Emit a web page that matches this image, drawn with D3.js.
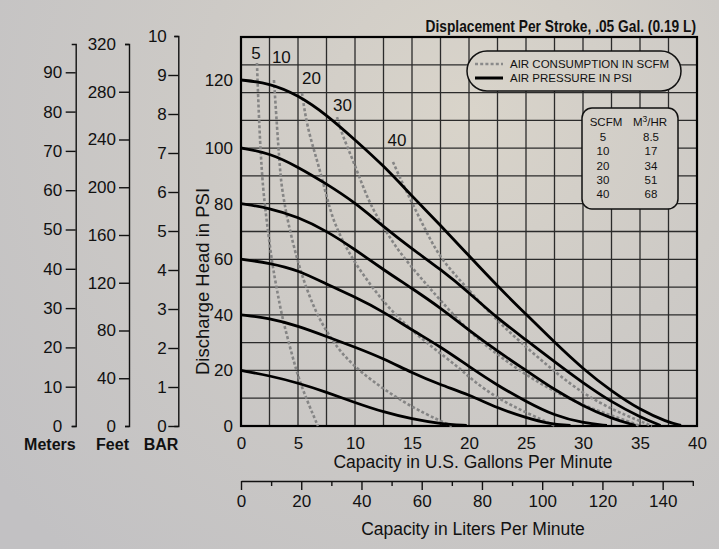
<!DOCTYPE html>
<html><head><meta charset="utf-8">
<script src="https://cdn.jsdelivr.net/npm/d3@7"></script>
<style>
body{margin:0;background:#cbc8c4}
svg{display:block;font-family:"Liberation Sans",Arial,Helvetica,sans-serif}
</style>
</head><body>
<svg id="c" width="719" height="549"></svg>
<script>
// ---------- data ----------
const gpmTicks = [0,5,10,15,20,25,30,35,40];
const literTicks = [0,10,20,30,40,50,60,70,80,90,100,110,120,130,140,150];
const psiTicks = [0,20,40,60,80,100,120];
const meterTicks = [0,10,20,30,40,50,60,70,80,90];
const feetTicks = [0,40,80,120,160,200,240,280,320];
const barTicks = [0,1,2,3,4,5,6,7,8,9,10];

const psiLevels = [120,100,80,60,40,20];
const p120 = [[0,120],[2.5,119.1],[5,115.6],[7.5,109.8],[10,102.4],[12.5,93.7],[15,82.7],[17.5,72.2],[20,61.2],[22.5,50.3],[25,40.2],[27.5,30.1],[30,20.5],[32.5,12.5],[35,5.8],[37.4,1.4],[38.6,0.2]];
const p100 = [[0,100],[2.5,98.2],[5,93.2],[7.5,87.1],[10,80.4],[12.5,71.7],[15,63.7],[17.5,56.4],[20,48],[22.5,38.7],[25,31],[27.5,23.1],[30,15.5],[32.5,8.6],[35,3.2],[36.8,0.2]];
const p80  = [[0,80],[2.5,78.4],[5,75.2],[7.5,70.2],[10,63.5],[12.5,56.2],[15,49.5],[17.5,42.5],[20,34.4],[22.5,26.9],[25,20],[27.5,13],[30,7.2],[32.5,2.7],[34.6,0.2]];
const p60  = [[0,60],[2.5,58.6],[5,56.1],[7.5,51],[10,46.4],[12.5,41.1],[15,34.5],[17.5,28.5],[20,21.4],[22.5,14.6],[25,8.8],[27.5,3.7],[30,1.1],[32.1,0.2]];
const p40  = [[0,40],[2.5,38.8],[5,36],[7.5,32.2],[10,28.4],[12.5,24.3],[15,19.1],[17.5,14.8],[20,11.3],[22.5,6.4],[25,3],[27,0.8],[28.9,0.2]];
const p20  = [[0,20],[2.5,18.1],[5,15.5],[7.5,12.2],[10,8.4],[12.5,5],[15,2.5],[17.5,0.8],[19.8,0.2]];

const scfmLevels = [5,10,20,30,40];
const m3hr = ["8.5","17","34","51","68"];
const a5  = [[1.4,125],[1.49,116.2],[1.67,101.5],[1.93,84.9],[2.28,73],[2.72,58.6],[3.16,48.9],[3.6,39.2],[4.3,28.4],[5,17.6],[5.88,8.3],[6.75,0]];
const a10 = [[2.89,120],[3.16,106.2],[3.42,92.1],[3.6,84.9],[4.12,73],[5,58.6],[5.79,48.9],[6.75,39.2],[7.98,30.9],[9.12,24.8],[10.61,19.1],[12.63,12.9],[15,6.8],[17.28,2.2],[18.5,0]];
const a20 = [[5.35,116.2],[5.79,106.2],[6.67,95.7],[7.37,84.9],[7.98,75.2],[8.86,66.9],[10,58.6],[11.49,50],[12.89,42.8],[14.65,35.6],[16.75,28.4],[19,21.4],[20.5,15.8],[22.5,10],[25,4.8],[27.6,0]];
const a30 = [[8.42,109.1],[8.95,103.2],[9.82,95.7],[10.7,86],[11.58,77.7],[12.81,69.4],[13.95,62.2],[15.7,53.6],[17.46,45.3],[20.09,33.5],[22.46,25.8],[24.9,18.6],[27.5,12.3],[30.2,7.2],[32.1,4.3],[33.9,1.8],[35,0]];
const a40 = [[13.33,95],[13.95,89.2],[15.09,79.5],[16.32,69.4],[17.46,60.4],[19.82,49.6],[22.46,37.8],[25.09,28.1],[27.63,19.1],[30.18,11.2],[32.63,5.8],[34.74,2.2],[36.05,0]];
// label anchors (gpm, psi) for the SCFM numbers
const scfmLabelAt = [[1.32,126.1],[3.54,124.9],[6.18,118.7],[8.9,111],[13.68,100.7]];

const pressureSeries = [p120,p100,p80,p60,p40,p20];
const airSeries = [a5,a10,a20,a30,a40];

// ---------- drawing ----------
const svg = d3.select('#c');
const defs = svg.append('defs');
const grad = defs.append('radialGradient').attr('id','bg')
  .attr('gradientUnits','userSpaceOnUse').attr('cx',470).attr('cy',110).attr('r',600);
grad.append('stop').attr('offset',0).attr('stop-color','#d9d4ca');
grad.append('stop').attr('offset',0.45).attr('stop-color','#cdcac6');
grad.append('stop').attr('offset',1).attr('stop-color','#c2c1c3');
svg.append('rect').attr('width',719).attr('height',549).attr('fill','url(#bg)');

const x = d3.scaleLinear().domain([0,40]).range([241,697]);
const y = d3.scaleLinear().domain([0,100,120]).range([426,148,80]);
const rows = d3.scaleLinear().domain([0,14]).range([426,37]);
const xL = d3.scaleLinear().domain([0,150]).range([x(0), x(150/3.785)]);
const yM = d3.scaleLinear().domain([0,97.2]).range([426,44]);
const yF = d3.scaleLinear().domain([0,320]).range([426,44]);
const yB = d3.scaleLinear().domain([0,10]).range([426,36]);

// grid
const grid = svg.append('g').attr('stroke','#2b2b2b').attr('stroke-width',1.3);
grid.selectAll('line.v').data(d3.range(0,40.01,2.5)).join('line')
  .attr('x1',d=>x(d)).attr('x2',d=>x(d)).attr('y1',rows(0)).attr('y2',rows(14));
grid.selectAll('line.h').data(d3.range(0,15)).join('line')
  .attr('x1',x(0)).attr('x2',x(40)).attr('y1',d=>rows(d)).attr('y2',d=>rows(d));
svg.append('rect').attr('x',x(0)).attr('y',rows(14)).attr('width',x(40)-x(0)).attr('height',rows(0)-rows(14))
  .attr('fill','none').attr('stroke','#000').attr('stroke-width',2.2);

// legend pill
svg.append('rect').attr('x',467).attr('y',51).attr('width',214).attr('height',40).attr('rx',20)
  .attr('fill','url(#bg)').attr('stroke','#111').attr('stroke-width',1.5);
svg.append('line').attr('x1',475).attr('x2',503).attr('y1',64).attr('y2',64)
  .attr('stroke','#8a8a8a').attr('stroke-width',2.4).attr('stroke-dasharray','3,2.2');
svg.append('line').attr('x1',475).attr('x2',503).attr('y1',78).attr('y2',78)
  .attr('stroke','#000').attr('stroke-width',3);
svg.append('text').attr('x',510).attr('y',68).attr('font-size',11.5).attr('fill','#111').text('AIR CONSUMPTION IN SCFM');
svg.append('text').attr('x',510).attr('y',82).attr('font-size',11.5).attr('fill','#111').text('AIR PRESSURE IN PSI');

// table
svg.append('rect').attr('x',582).attr('y',108).attr('width',96).attr('height',101).attr('rx',10)
  .attr('fill','url(#bg)').attr('stroke','#111').attr('stroke-width',1.5);
svg.append('text').attr('x',606).attr('y',126).attr('text-anchor','middle').attr('font-size',11.5).attr('fill','#111').text('SCFM');
const hdr = svg.append('text').attr('x',650).attr('y',126).attr('text-anchor','middle').attr('font-size',11.5).attr('fill','#111');
hdr.append('tspan').text('M');
hdr.append('tspan').attr('dy',-4).attr('font-size',8.5).text('3');
hdr.append('tspan').attr('dy',4).text('/HR');
svg.selectAll('text.s').data(scfmLevels).join('text').attr('class','s')
  .attr('x',603).attr('y',(d,i)=>141+i*14.3).attr('text-anchor','middle').attr('font-size',11.5).attr('fill','#111').text(d=>d);
svg.selectAll('text.m').data(m3hr).join('text').attr('class','m')
  .attr('x',651).attr('y',(d,i)=>141+i*14.3).attr('text-anchor','middle').attr('font-size',11.5).attr('fill','#111').text(d=>d);

// curves
const line = d3.line().x(d=>x(d[0])).y(d=>y(d[1])).curve(d3.curveBasis);
svg.append('g').selectAll('path').data(airSeries).join('path')
  .attr('d',line).attr('fill','none').attr('stroke','#858585').attr('stroke-width',2.6)
  .attr('stroke-dasharray','3,2.2');
svg.append('g').selectAll('path').data(pressureSeries).join('path')
  .attr('d',line).attr('fill','none').attr('stroke','#000').attr('stroke-width',2.8);

svg.append('g').selectAll('text').data(scfmLevels).join('text')
  .attr('x',(d,i)=>x(scfmLabelAt[i][0])).attr('y',(d,i)=>y(scfmLabelAt[i][1]))
  .attr('text-anchor','middle').attr('font-size',17).attr('fill','#111').text(d=>d);

// PSI axis labels
const ay = svg.append('g').attr('transform',`translate(${x(0)},0)`)
  .call(d3.axisLeft(y).tickValues(psiTicks).tickSize(0).tickPadding(8));
ay.select('.domain').remove();
ay.selectAll('text').attr('font-size',17).attr('fill','#111').attr('font-family',null);

// GPM axis labels
const ax = svg.append('g').attr('transform',`translate(0,${rows(0)})`)
  .call(d3.axisBottom(x).tickValues(gpmTicks).tickSize(0).tickPadding(11));
ax.select('.domain').remove();
ax.selectAll('text').attr('font-size',17).attr('fill','#111').attr('font-family',null);

// Liters axis
const aL = svg.append('g').attr('transform','translate(0,481)')
  .call(d3.axisBottom(xL).tickValues(literTicks).tickSizeInner(9).tickSizeOuter(0).tickPadding(5));
aL.selectAll('.tick').filter(d=>d%20!==0).select('line').attr('y2',5);
aL.selectAll('.tick').filter(d=>d%20!==0).select('text').remove();
aL.selectAll('text').attr('font-size',17).attr('fill','#111').attr('font-family',null);
aL.selectAll('line,path').attr('stroke','#111').attr('stroke-width',1.4);

// left auxiliary axes
function sideAxis(scale, ticks, xpos, pad, shortTicks){
  const a = svg.append('g').attr('transform',`translate(${xpos},0)`)
    .call(d3.axisLeft(scale).tickValues(ticks).tickSizeInner(10).tickSizeOuter(4).tickPadding(pad));
  a.selectAll('.tick').filter(d=>shortTicks.includes(d)).select('line').attr('x2',-4);
  a.selectAll('text').attr('font-size',17).attr('fill','#111').attr('font-family',null);
  a.selectAll('line,path').attr('stroke','#111').attr('stroke-width',1.4);
  return a;
}
sideAxis(yM, meterTicks, 75.7, 3.5, [0]);
sideAxis(yF, feetTicks, 129, 3, [0,320]);
sideAxis(yB, barTicks, 178.3, 1.5, [10]);

// axis names
const bold = [['Meters',75.7],['Feet',129],['BAR',178.3]];
svg.selectAll('text.nm').data(bold).join('text').attr('class','nm')
  .attr('x',d=>d[1]).attr('y',449.5).attr('text-anchor','end').attr('font-size',16).attr('font-weight','bold')
  .attr('fill','#111').text(d=>d[0]);

svg.append('text').attr('transform','translate(209,281.5) rotate(-90)').attr('text-anchor','middle')
  .attr('font-size',18.5).attr('fill','#111').text('Discharge Head in PSI');
svg.append('text').attr('x',473).attr('y',467.5).attr('text-anchor','middle')
  .attr('font-size',17.5).attr('fill','#111').text('Capacity in U.S. Gallons Per Minute');
svg.append('text').attr('x',473).attr('y',534.5).attr('text-anchor','middle')
  .attr('font-size',17.5).attr('fill','#111').text('Capacity in Liters Per Minute');
svg.append('text').attr('transform','translate(696,31.5) scale(0.86,1)').attr('text-anchor','end')
  .attr('font-size',16).attr('font-weight','bold').attr('fill','#111')
  .text('Displacement Per Stroke, .05 Gal. (0.19 L)');
</script>
</body></html>
